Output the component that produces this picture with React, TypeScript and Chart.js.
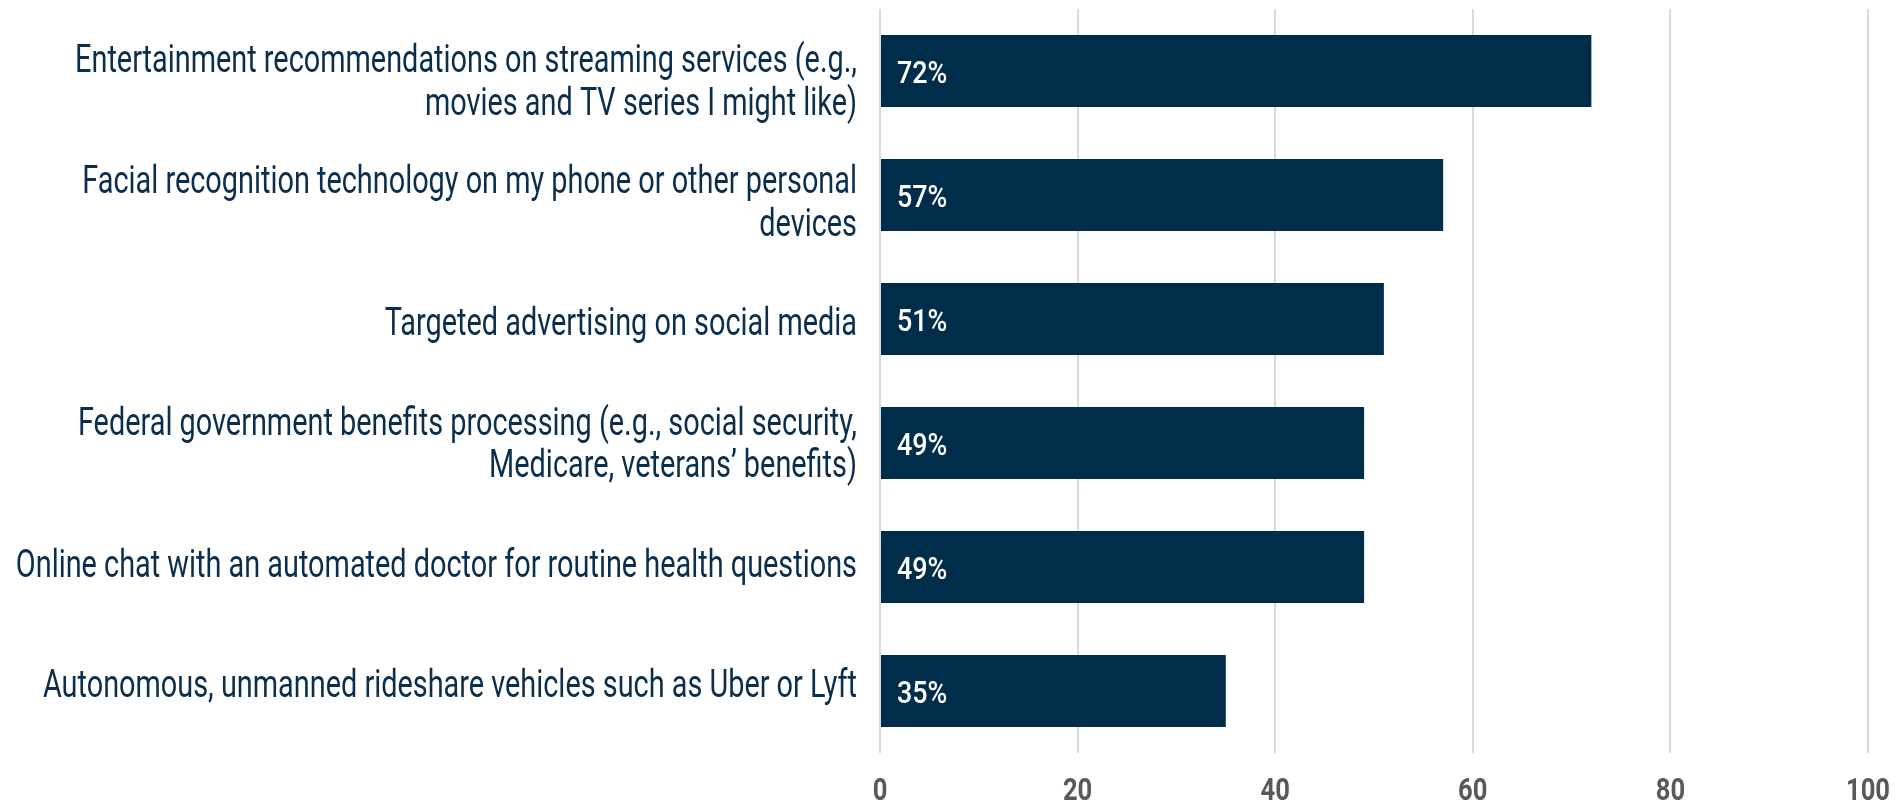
import React, { useEffect, useRef } from "react";
import { Chart, registerables } from "chart.js";

Chart.register(...registerables);

const categories: (string | string[])[] = [
  ["Entertainment recommendations on streaming services (e.g.,", "movies and TV series I might like)"],
  ["Facial recognition technology on my phone or other personal", "devices"],
  "Targeted advertising on social media",
  ["Federal government benefits processing (e.g., social security,", "Medicare, veterans\u2019 benefits)"],
  "Online chat with an automated doctor for routine health questions",
  "Autonomous, unmanned rideshare vehicles such as Uber or Lyft",
];

const values: number[] = [72, 57, 51, 49, 49, 35];

const xTicks: number[] = [0, 20, 40, 60, 80, 100];

const FONT = "Roboto, 'Liberation Sans', Arial, sans-serif";
const NAVY = "#002d4a";
const TEXT_NAVY = "#0b2e4c";
const TICK_GRAY = "#595959";

// horizontal compression factors to imitate the condensed typeface
const CAT_SX = 0.74;
const VAL_SX = 0.84;
const TICK_SX = 0.8;

function drawScaledText(ctx: CanvasRenderingContext2D, text: string, x: number, y: number, sx: number) {
  ctx.save();
  ctx.translate(x, y);
  ctx.scale(sx, 1);
  ctx.fillText(text, 0, 0);
  ctx.restore();
}

const labelPlugin = {
  id: "customLabels",
  afterDraw(chart: any) {
    const ctx: CanvasRenderingContext2D = chart.ctx;
    const ys = chart.scales.y;
    const xs = chart.scales.x;
    const area = chart.chartArea;
    const mid = (area.top + area.bottom) / 2;

    // category labels
    ctx.save();
    ctx.fillStyle = TEXT_NAVY;
    ctx.font = `39px ${FONT}`;
    ctx.textAlign = "right";
    ctx.textBaseline = "alphabetic";
    const lh = 42.5;
    chart.data.labels.forEach((lab: string | string[], i: number) => {
      const lines = Array.isArray(lab) ? lab : [lab];
      const bc = ys.getPixelForValue(i);
      const anchor = mid + (bc - mid) * 0.974 + 3.5;
      lines.forEach((ln: string, j: number) => {
        const ly = anchor + (j - (lines.length - 1) / 2) * lh + 11;
        drawScaledText(ctx, ln, area.left - 23, ly, CAT_SX);
      });
    });
    ctx.restore();

    // x tick labels
    ctx.save();
    ctx.fillStyle = TICK_GRAY;
    ctx.font = `bold 32px ${FONT}`;
    ctx.textAlign = "center";
    ctx.textBaseline = "alphabetic";
    xs.ticks.forEach((t: any) => {
      const px = xs.getPixelForValue(t.value);
      drawScaledText(ctx, String(t.value), px, area.bottom + 47, TICK_SX);
    });
    ctx.restore();

    // value labels inside bars
    const meta = chart.getDatasetMeta(0);
    ctx.save();
    ctx.fillStyle = "#ffffff";
    ctx.font = `500 32px ${FONT}`;
    ctx.textAlign = "left";
    ctx.textBaseline = "alphabetic";
    meta.data.forEach((el: any, i: number) => {
      const v = chart.data.datasets[0].data[i];
      drawScaledText(ctx, `${v}%`, el.base + 16, el.y + 11.5, VAL_SX);
    });
    ctx.restore();
  },
};

export default function App() {
  const canvasRef = useRef<HTMLCanvasElement | null>(null);

  useEffect(() => {
    if (!canvasRef.current) return;
    const chart = new Chart(canvasRef.current, {
      type: "bar",
      data: {
        labels: categories as any,
        datasets: [
          {
            data: values,
            backgroundColor: NAVY,
            borderWidth: 0,
            barPercentage: 0.58,
            categoryPercentage: 1.0,
          },
        ],
      },
      plugins: [labelPlugin],
      options: {
        indexAxis: "y",
        animation: false,
        responsive: true,
        maintainAspectRatio: false,
        layout: { padding: { top: 9, right: 35, bottom: 0, left: 0 } },
        plugins: {
          legend: { display: false },
          tooltip: { enabled: false },
          title: { display: false },
        },
        scales: {
          x: {
            min: 0,
            max: 100,
            afterBuildTicks(scale: any) {
              scale.ticks = xTicks.map((v) => ({ value: v }));
            },
            afterFit(scale: any) {
              scale.height = 50;
              scale.paddingLeft = 0;
              scale.paddingRight = 0;
            },
            grid: {
              color: "#d9d9d9",
              lineWidth: 2,
              drawTicks: false,
            },
            border: { display: false },
            ticks: { display: false },
          },
          y: {
            afterFit(scale: any) {
              scale.width = 880;
              scale.paddingTop = 0;
              scale.paddingBottom = 0;
            },
            grid: { display: false, drawTicks: false },
            border: { display: false },
            ticks: { display: false },
          },
        },
      },
    });
    return () => chart.destroy();
  }, []);

  return (
    <div style={{ position: "fixed", left: 0, top: 0, width: 1903, height: 803, background: "#ffffff" }}>
      <canvas ref={canvasRef} />
    </div>
  );
}
